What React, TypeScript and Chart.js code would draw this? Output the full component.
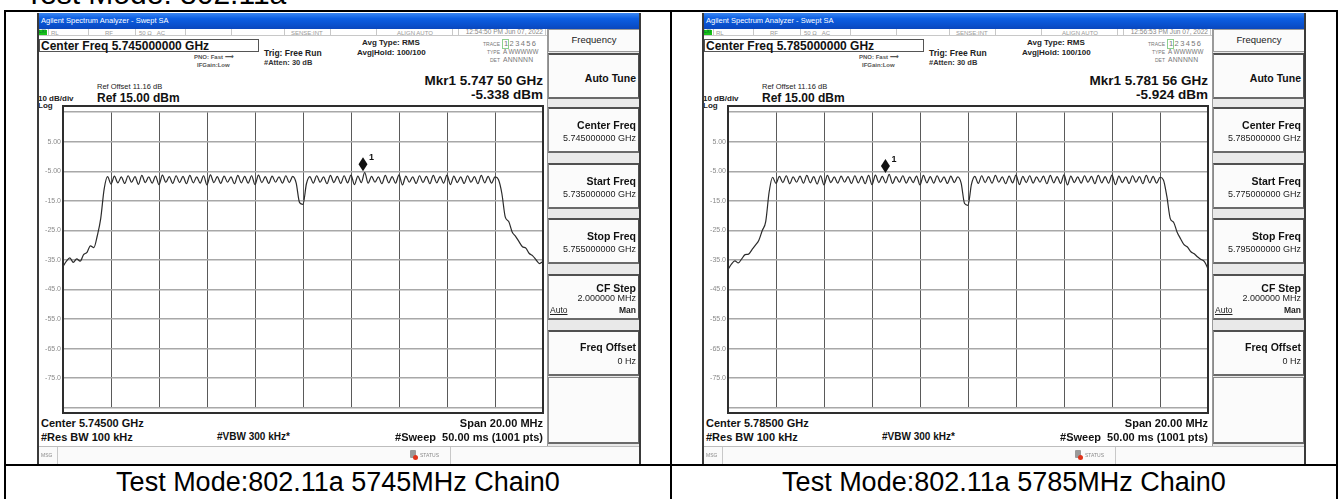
import React, { useEffect, useRef } from 'react';
import { Chart, registerables } from 'chart.js';
Chart.register(...registerables);

// ---------- data ----------
const sweepStartMHz = -10;
const sweepStepMHz = 1 / 7; // 141 displayed sweep bins over the 20 MHz span
const yTickValues = [5, -5, -15, -25, -35, -45, -55, -65, -75];
const refLevel = 15;
const bottomLevel = -85;

const trace5745 = [
  -37.2, -35.4, -34.3, -35.8, -34.6, -35.4, -33.2, -32.4, -30.2, -30.8, -26.8, -21.0, -11.0, -6.8,
  -9.3, -6.6, -8.9, -6.9, -9.1, -6.5, -8.7, -6.8, -9.4, -6.4, -8.8, -6.9, -9.0, -6.6,
  -9.5, -6.3, -8.7, -6.8, -9.1, -6.5, -8.8, -6.7, -9.2, -6.4, -8.9, -6.9, -9.0, -6.5,
  -9.6, -6.2, -8.8, -6.8, -9.1, -6.6, -8.7, -6.9, -9.2, -6.4, -8.9, -6.7, -9.0, -6.5,
  -9.5, -6.3, -8.8, -6.8, -9.1, -6.6, -8.7, -6.9, -9.0, -6.5, -8.8, -6.7, -8.9,
  -15.6, -16.2, -9.2,
  -6.8, -9.0, -6.5, -8.7, -6.9, -9.2, -6.4, -8.8, -6.7, -9.1, -6.5, -8.9, -6.3, -9.5,
  -6.6, -8.8, -5.4, -9.0, -6.7, -8.7, -6.9, -9.2, -6.4, -8.9, -6.8, -9.0, -6.2, -9.6,
  -6.6, -8.7, -6.9, -9.1, -6.5, -8.8, -6.7, -9.2, -6.4, -8.9, -6.8, -9.0, -6.3, -9.5,
  -6.6, -8.8, -6.9, -9.1, -6.5, -8.7, -6.8, -9.2, -6.4, -8.9, -6.7, -9.0, -6.9,
  -7.8, -12.5, -20.5, -22.0, -25.5, -27.0, -28.8, -30.5, -31.0, -32.8, -33.6, -35.0, -36.2, -35.5,
];

const trace5785 = [
  -38.2, -36.4, -35.3, -36.0, -34.6, -33.2, -33.0, -31.5, -30.0, -28.3, -25.0, -22.0, -12.0, -7.0,
  -9.1, -6.7, -8.8, -6.5, -9.2, -6.9, -8.7, -6.6, -9.0, -6.4, -8.9, -6.8, -9.3, -6.5,
  -9.6, -6.4, -8.8, -6.9, -9.0, -6.6, -8.7, -6.8, -9.1, -6.5, -8.9, -6.7, -9.2, -6.4,
  -9.5, -6.3, -8.8, -6.7, -8.9, -6.0, -9.1, -6.8, -8.7, -6.5, -9.0, -6.9, -8.8, -6.6,
  -9.6, -6.4, -8.9, -6.8, -9.0, -6.5, -8.7, -6.9, -9.1, -6.6, -8.8, -6.9, -9.0,
  -15.9, -16.5, -9.4,
  -6.7, -9.1, -6.5, -8.8, -6.8, -9.0, -6.4, -8.7, -6.9, -9.2, -6.6, -8.9, -6.3, -9.5,
  -6.7, -8.8, -6.5, -9.0, -6.9, -8.7, -6.6, -9.2, -6.4, -8.9, -6.8, -9.1, -6.2, -9.6,
  -6.6, -8.8, -6.9, -9.0, -6.5, -8.7, -6.7, -9.2, -6.4, -8.9, -6.8, -9.0, -6.3, -9.5,
  -6.6, -8.8, -6.9, -9.1, -6.5, -8.7, -6.8, -9.2, -6.4, -8.9, -6.7, -9.0, -7.0,
  -7.9, -13.5, -21.0, -22.3, -25.6, -27.8, -29.8, -30.6, -32.2, -32.9, -34.0, -34.8, -35.6, -38.0,
];

const traces = [trace5745, trace5785];
const markerOffsetMHz = [2.5, -3.44];
const markerLevelDbm = [-5.338, -5.924];
const markerFreqText = ['5.747 50', '5.781 56'];
const centerFreqText = ['5.745000000', '5.785000000'];
const startFreqText = ['5.735000000', '5.775000000'];
const stopFreqText = ['5.755000000', '5.795000000'];
const centerShortText = ['5.74500', '5.78500'];
const timeStampText = ['12:54:50 PM Jun 07, 2022', '12:56:53 PM Jun 07, 2022'];
const captionText = ['Test Mode:802.11a 5745MHz Chain0', 'Test Mode:802.11a 5785MHz Chain0'];

const FONT = '"Liberation Sans", Arial, Helvetica, sans-serif';

// ---------- helpers ----------
type TP = {
  x: number; y: number; s: number; b?: boolean; c?: string; a?: 'left' | 'right' | 'center';
  children: React.ReactNode; st?: React.CSSProperties;
};
const T = ({ x, y, s, b, c = '#111', a = 'left', children, st }: TP) => {
  const w = 1000;
  const left = a === 'left' ? x : a === 'right' ? x - w : x - w / 2;
  return (
    <div
      style={{
        position: 'absolute', left, top: y - s * 0.49, width: w, textAlign: a,
        fontSize: s, lineHeight: `${s}px`, fontWeight: b ? 'bold' : 'normal', color: c,
        whiteSpace: 'pre', fontFamily: FONT, pointerEvents: 'none', ...st,
      }}
    >
      {children}
    </div>
  );
};

const Box = ({ l, t, w, h, st }: { l: number; t: number; w: number; h: number; st?: React.CSSProperties }) => (
  <div style={{ position: 'absolute', left: l, top: t, width: w, height: h, boxSizing: 'border-box', ...st }} />
);

// ---------- plot ----------
const PlotCanvas = ({ idx }: { idx: number }) => {
  const ref = useRef<HTMLCanvasElement | null>(null);
  useEffect(() => {
    if (!ref.current) return;
    const pts = traces[idx].map((v, i) => ({ x: sweepStartMHz + i * sweepStepMHz, y: v }));
    const markerPlugin = {
      id: 'mkr',
      afterDatasetsDraw(chart: any) {
        const meta = chart.getDatasetMeta(1);
        const p = meta.data[0];
        if (!p) return;
        const ctx = chart.ctx;
        ctx.save();
        const cx = p.x;
        const cy = p.y - 8;
        ctx.fillStyle = '#111';
        ctx.beginPath();
        ctx.moveTo(cx, cy - 7);
        ctx.lineTo(cx + 4.5, cy);
        ctx.lineTo(cx, cy + 7);
        ctx.lineTo(cx - 4.5, cy);
        ctx.closePath();
        ctx.fill();
        ctx.font = `bold 9px ${FONT}`;
        ctx.textBaseline = 'middle';
        ctx.fillText('1', cx + 6, cy - 7);
        ctx.restore();
      },
    };
    const chart = new Chart(ref.current, {
      type: 'line',
      data: {
        datasets: [
          {
            data: pts, borderColor: '#2b2b2b', borderWidth: 1.2, pointRadius: 0,
            cubicInterpolationMode: 'monotone', fill: false,
          },
          {
            data: [{ x: markerOffsetMHz[idx], y: markerLevelDbm[idx] }], pointRadius: 0, showLine: false,
          },
        ],
      },
      options: {
        animation: false,
        responsive: false,
        maintainAspectRatio: false,
        events: [],
        layout: { padding: { top: 0, right: 1, bottom: 1, left: 0 }, autoPadding: false } as any,
        plugins: { legend: { display: false }, tooltip: { enabled: false } },
        scales: {
          x: {
            type: 'linear', min: -10, max: 10,
            ticks: { display: false, stepSize: 2 },
            grid: { color: '#5a5a5a', lineWidth: 1, drawTicks: false },
            border: { display: false },
            afterFit: (s: any) => { s.height = 0; },
          },
          y: {
            min: bottomLevel, max: refLevel,
            ticks: {
              stepSize: 10, padding: 2, color: '#8a8a8a',
              font: { size: 7, family: FONT },
              callback: (v: any) => {
                const n = Number(v);
                if (!yTickValues.includes(n)) return '';
                return Math.abs(n) < 10 ? n.toFixed(2) : n.toFixed(1);
              },
            },
            grid: { color: '#a8a8a8', lineWidth: 1.6, drawTicks: false },
            border: { display: false },
            afterFit: (s: any) => { s.width = 26; },
          },
        },
      },
      plugins: [markerPlugin],
    });
    return () => chart.destroy();
  }, [idx]);
  return <canvas ref={ref} width={507} height={308} style={{ position: 'absolute', left: 0, top: 93, width: 507, height: 308 }} />;
};

// ---------- sidebar ----------
const keyTops = [40, 94, 150, 205, 261, 317];

const SoftKey = ({ top, children }: { top: number; children?: React.ReactNode }) => (
  <div style={{
    position: 'absolute', left: 511, top, width: 92, height: 46, boxSizing: 'border-box',
    background: '#fbfbfb', borderTop: '2px solid #505050', borderLeft: '1px solid #8a8a8a',
    borderRight: '2px solid #505050', borderBottom: '2px solid #6a6a6a',
  }}>{children}</div>
);

const Sidebar = ({ idx }: { idx: number }) => {
  const R = 87;
  return (
    <>
      <Box l={510} t={16} w={94} h={417} st={{ background: '#e9e9e9', borderLeft: '1px solid #9a9a9a' }} />
      <Box l={511} t={16} w={92} h={23} st={{ background: '#fbfbfb', border: '1px solid #9a9a9a' }} />
      <T x={557} y={27} s={9.5} a="center" c="#222">Frequency</T>
      <SoftKey top={keyTops[0]}>
        <T x={R} y={23} s={10.5} b a="right">Auto Tune</T>
      </SoftKey>
      <SoftKey top={keyTops[1]}>
        <T x={R} y={16} s={10.5} b a="right">Center Freq</T>
        <T x={R} y={29} s={9} a="right" c="#222">{centerFreqText[idx] + ' GHz'}</T>
      </SoftKey>
      <SoftKey top={keyTops[2]}>
        <T x={R} y={16} s={10.5} b a="right">Start Freq</T>
        <T x={R} y={29} s={9} a="right" c="#222">{startFreqText[idx] + ' GHz'}</T>
      </SoftKey>
      <SoftKey top={keyTops[3]}>
        <T x={R} y={16} s={10.5} b a="right">Stop Freq</T>
        <T x={R} y={29} s={9} a="right" c="#222">{stopFreqText[idx] + ' GHz'}</T>
      </SoftKey>
      <SoftKey top={keyTops[4]}>
        <T x={R} y={12} s={10.5} b a="right">CF Step</T>
        <T x={R} y={22} s={9} a="right" c="#222">2.000000 MHz</T>
        <T x={1} y={34} s={8.5} c="#222" st={{ textDecoration: 'underline' }}>Auto</T>
        <T x={R} y={34} s={8.5} b a="right" c="#222">Man</T>
      </SoftKey>
      <SoftKey top={keyTops[5]}>
        <T x={R} y={15} s={10.5} b a="right">Freq Offset</T>
        <T x={R} y={29} s={9} a="right" c="#222">0 Hz</T>
      </SoftKey>
      <Box l={511} t={364} w={92} h={67} st={{ background: '#fbfbfb', borderTop: '1px solid #8a8a8a', borderLeft: '1px solid #8a8a8a', borderRight: '2px solid #6a6a6a', borderBottom: '2px solid #6a6a6a' }} />
    </>
  );
};

// ---------- screenshot panel ----------
const statusDividers = [11, 51, 98, 148, 194, 247, 293, 339, 415, 421, 508];

const Panel = ({ idx, left }: { idx: number; left: number }) => (
  <div style={{ position: 'absolute', left, top: 13, width: 604, height: 451, background: '#fff', overflow: 'hidden' }}>
    {/* title bar */}
    <Box l={0} t={0} w={604} h={16} st={{ background: 'linear-gradient(#3a86f2 0%, #0c5ee2 35%, #0a52d0 70%, #0a47bd 100%)' }} />
    <T x={4} y={8} s={7.5} c="#fff">Agilent Spectrum Analyzer - Swept SA</T>
    {/* status row */}
    <Box l={0} t={16} w={510} h={7} st={{ background: '#fff', borderBottom: '1px solid #c8c8c8' }} />
    <Box l={1} t={17} w={9} h={5} st={{ background: '#19c219' }} />
    <T x={2} y={19.5} s={4.5} c="#063">LXI</T>
    {statusDividers.map((d, i) => (
      <Box key={i} l={d} t={16} w={1} h={7} st={{ background: '#c8c8c8' }} />
    ))}
    <T x={14} y={19.5} s={6} c="#999">RL</T>
    <T x={68} y={19.5} s={6} c="#999">RF</T>
    <T x={102} y={19.5} s={6} c="#999">50 Ω   AC</T>
    <T x={254} y={19.5} s={6} c="#999">SENSE:INT</T>
    <T x={360} y={19.5} s={6} c="#999">ALIGN AUTO</T>
    <T x={506} y={19.5} s={6.6} a="right" c="#888">{timeStampText[idx]}</T>

    {/* centre freq box */}
    <Box l={2} t={26} w={220} h={13} st={{ border: '1px solid #555', background: '#fff' }} />
    <T x={4} y={32.5} s={12} b c="#111">{'Center Freq ' + centerFreqText[idx] + ' GHz'}</T>
    <T x={157} y={44} s={6} b c="#555">PNO: Fast ⟶</T>
    <T x={160} y={52} s={6} b c="#555">IFGain:Low</T>
    <T x={227} y={40} s={8.5} b c="#222">Trig: Free Run</T>
    <T x={227} y={50} s={7.5} b c="#333">#Atten: 30 dB</T>
    <T x={325} y={30} s={8} b c="#222">Avg Type: RMS</T>
    <T x={320} y={40} s={8} b c="#222">Avg|Hold: 100/100</T>
    <T x={463} y={31} s={5} a="right" c="#777">TRACE</T>
    <T x={463} y={39} s={5} a="right" c="#777">TYPE</T>
    <T x={463} y={47} s={5} a="right" c="#777">DET</T>
    <Box l={465} t={26} w={7} h={10} st={{ border: '1px solid #8fcf8f' }} />
    <T x={467} y={31} s={7.5} c="#777" st={{ letterSpacing: 1.4 }}>123456</T>
    <T x={466} y={39} s={6.3} c="#777">A WWWWW</T>
    <T x={466} y={47} s={6.8} c="#777" st={{ letterSpacing: 0.2 }}>ANNNNN</T>

    {/* marker readout */}
    <T x={506} y={68} s={13.5} b a="right" c="#111">{'Mkr1 ' + markerFreqText[idx] + ' GHz'}</T>
    <T x={506} y={82} s={13.5} b a="right" c="#111">{markerLevelDbm[idx].toFixed(3) + ' dBm'}</T>
    <T x={60} y={74} s={7.5} c="#222">Ref Offset 11.16 dB</T>
    <T x={1} y={86} s={8} b c="#222">10 dB/div</T>
    <T x={60} y={85} s={12} b c="#111">Ref 15.00 dBm</T>
    <T x={1} y={92.5} s={8} b c="#222">Log</T>

    {/* plot */}
    <PlotCanvas idx={idx} />
    <Box l={25} t={92} w={482} h={309} st={{ border: '2px solid #2e2e2e' }} />

    {/* bottom annotations */}
    <T x={4} y={410} s={11} b c="#111">{'Center ' + centerShortText[idx] + ' GHz'}</T>
    <T x={506} y={410} s={11} b a="right" c="#111">Span 20.00 MHz</T>
    <T x={4} y={424} s={11} b c="#111">#Res BW 100 kHz</T>
    <T x={180} y={424} s={10} b c="#111">#VBW 300 kHz*</T>
    <T x={506} y={424} s={11} b a="right" c="#111">{'#Sweep  50.00 ms (1001 pts)'}</T>

    <Sidebar idx={idx} />

    {/* message row */}
    <Box l={0} t={433} w={604} h={18} st={{ background: '#fafafa', borderTop: '1px solid #bdbdbd' }} />
    <Box l={20} t={434} w={1} h={17} st={{ background: '#c8c8c8' }} />
    <Box l={413} t={434} w={1} h={17} st={{ background: '#c8c8c8' }} />
    <T x={4} y={442} s={5} c="#888">MSG</T>
    <Box l={373} t={437} w={6} h={8} st={{ background: '#9a9a9a', borderRadius: 1 }} />
    <Box l={376} t={442} w={5} h={5} st={{ background: '#e0331a', borderRadius: 3 }} />
    <T x={383} y={442} s={5} c="#888">STATUS</T>

    {/* frame */}
    <Box l={0} t={0} w={604} h={451} st={{ borderLeft: '2px solid #3a3a3a', borderRight: '2px solid #3a3a3a' }} />
  </div>
);

export default function App() {
  return (
    <div style={{ position: 'fixed', left: 0, top: 0, width: 1338, height: 499, background: '#fff', overflow: 'hidden', fontFamily: FONT }}>
      {/* cut-off heading */}
      <div style={{ position: 'absolute', left: 25, top: -21.4, fontSize: 30, lineHeight: '30px', color: '#000', fontFamily: FONT, whiteSpace: 'pre' }}>
        Test Mode: 802.11a
      </div>
      <Panel idx={0} left={37} />
      <Panel idx={1} left={702} />
      {/* table rules */}
      <Box l={4} t={10} w={1334} h={2} st={{ background: '#000' }} />
      <Box l={4} t={464} w={1334} h={2} st={{ background: '#000' }} />
      <Box l={4} t={10} w={2} h={489} st={{ background: '#000' }} />
      <Box l={670} t={10} w={2} h={489} st={{ background: '#000' }} />
      <Box l={1336} t={10} w={2} h={489} st={{ background: '#000' }} />
      {captionText.map((c, i) => (
        <T key={i} x={i === 0 ? 338 : 1004} y={482} s={27} a="center" c="#000">{c}</T>
      ))}
    </div>
  );
}
